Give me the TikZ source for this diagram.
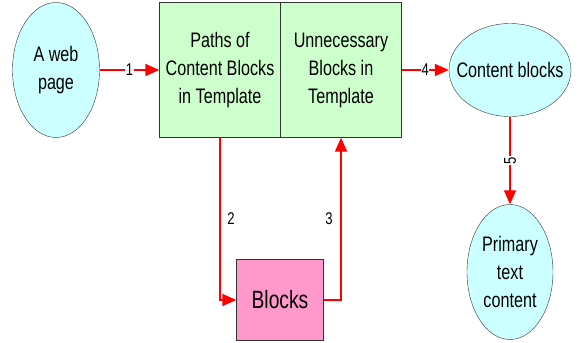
\documentclass[tikz,border=0pt]{standalone}
\usepackage{fontspec}
\setmainfont{Liberation Sans}[FakeStretch=0.77]
\usetikzlibrary{positioning,arrows.meta,shapes.geometric}

\definecolor{skyfill}{HTML}{CCFFFF}
\definecolor{leaffill}{HTML}{CCFFCC}
\definecolor{rosefill}{HTML}{FF99CC}

\tikzset{
  oval/.style={ellipse, draw=black!80, fill=skyfill, align=center, inner sep=0pt},
  tmpl/.style={rectangle, draw=black!80, fill=leaffill, align=center,
    minimum width=121pt, minimum height=135pt, inner sep=0pt},
  flow/.style={draw=red, line width=1.6pt, -{Triangle[length=14pt,width=12pt]}},
  num/.style={font=\fontsize{17}{17}\selectfont, inner sep=0.6pt}
}

\begin{document}
\begin{tikzpicture}[node distance=100pt, on grid,
  font=\fontsize{21}{28}\selectfont]
\useasboundingbox (-56pt,70pt) rectangle (523pt,-273pt);
\node [oval, minimum width=87pt, minimum height=135pt] (web) {A web\\page};
\node [tmpl] (paths) [right=164pt of web] {Paths of\\Content Blocks\\in Template};
\node [tmpl] (unnec) [right=121pt of paths] {Unnecessary\\Blocks in\\Template};
\node [oval, inner xsep=-14pt, minimum width=122pt, minimum height=93pt] (content) [right=169pt of unnec] {Content blocks};
\node [oval, minimum width=86pt, minimum height=135pt] (primary) [below=202pt of content] {Primary\\text\\content};
\node [rectangle, draw=black!80, fill=rosefill, minimum width=87pt, minimum height=81pt,
  font=\fontsize{25}{30}\selectfont] (blocks) [below right=230pt and 60pt of paths] {Blocks};
\draw [flow] (web) -- node [num, fill=white] {1} (paths);
\draw [flow] (unnec) -- node [num, fill=white] {4} (content);
\draw [flow] (content) -- node [num, fill=white, rotate=90] {5} (primary);
\draw [flow] (paths) |- node [num, right=6pt, pos=0.25] {2} (blocks);
\draw [flow] (blocks) -| node [num, left=7pt, pos=0.75] {3} (unnec);
\end{tikzpicture}
\end{document}
